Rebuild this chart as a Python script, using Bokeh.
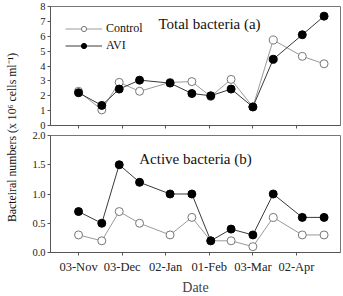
import math
import pandas as pd
from bokeh.plotting import figure
from bokeh.layouts import row, column
from bokeh.models import FixedTicker, DatetimeTickFormatter, Label, Range1d, NumeralTickFormatter, Legend, LegendItem
from bokeh.embed import file_html
from bokeh.resources import INLINE

dates = ["2000-11-03", "2000-11-19", "2000-12-01", "2000-12-15", "2001-01-05", "2001-01-20",
         "2001-02-02", "2001-02-16", "2001-03-03", "2001-03-17", "2001-04-06", "2001-04-21"]
total_control = [2.3, 1.05, 2.9, 2.3, 2.9, 2.95, 1.95, 3.1, 1.25, 5.75, 4.65, 4.15]
total_avi = [2.2, 1.35, 2.45, 3.05, 2.85, 2.15, 2.0, 2.45, 1.25, 4.45, 6.1, 7.35]
active_control = [0.3, 0.2, 0.7, 0.5, 0.3, 0.6, 0.2, 0.2, 0.1, 0.6, 0.3, 0.3]
active_avi = [0.7, 0.5, 1.5, 1.2, 1.0, 1.0, 0.2, 0.4, 0.3, 1.0, 0.6, 0.6]
tick_dates = ["2000-11-03", "2000-12-03", "2001-01-02", "2001-02-01", "2001-03-03", "2001-04-02"]
series_names = ["Control", "AVI"]
y_label = "Bacteiral numbers (x 10\u2076 cells ml\u207b\u00b9)"
titles = ["Total bacteria (a)", "Active bacteria (b)"]

x = pd.to_datetime(dates)
ticks_ms = [pd.Timestamp(d).value / 1e6 for d in tick_dates]
x0 = pd.Timestamp("2000-11-03") - pd.Timedelta(days=19.3)
x1 = pd.Timestamp("2000-11-03") + pd.Timedelta(days=180.3)
xr = Range1d(x0, x1)

FONT = "Liberation Serif"
AX = "#555555"
C_LINE = "#9a9a9a"
A_LINE = "#3a3a3a"


def style(p):
    p.grid.visible = False
    p.outline_line_color = "#777777"
    p.outline_line_width = 1
    p.background_fill_color = "white"
    p.border_fill_color = "white"
    for ax in (p.xaxis[0], p.yaxis[0]):
        ax.axis_line_color = AX
        ax.major_tick_line_color = AX
        ax.minor_tick_line_color = None
        ax.major_tick_in = 0
        ax.major_tick_out = 3
        ax.major_label_text_font = FONT
        ax.major_label_text_color = "#222222"
        ax.axis_label_text_font = FONT
        ax.axis_label_text_font_style = "normal"
    p.yaxis[0].major_label_text_font_size = "10.5px"
    p.yaxis[0].major_label_standoff = 2
    p.xaxis[0].ticker = FixedTicker(ticks=ticks_ms)
    p.xaxis[0].formatter = DatetimeTickFormatter(days="%d-%b", months="%d-%b", years="%d-%b")


# top panel
p1 = figure(x_axis_type="datetime", x_range=xr, y_range=Range1d(0, 8),
            frame_width=290, frame_height=119, output_backend="svg", toolbar_location=None,
            min_border_left=30, min_border_right=3, min_border_top=6, min_border_bottom=5)
style(p1)
p1.yaxis[0].ticker = FixedTicker(ticks=list(range(0, 9)))
p1.xaxis[0].major_label_overrides = {t: "" for t in ticks_ms}
p1.xaxis[0].major_label_standoff = 0
lc = p1.line(x, total_control, line_color=C_LINE, line_width=1)
la = p1.line(x, total_avi, line_color=A_LINE, line_width=1)
mc = p1.scatter(x, total_control, marker="circle", size=8, fill_color="white", line_color="#777777")
ma = p1.scatter(x, total_avi, marker="circle", size=8, fill_color="black", line_color="black")
leg = Legend(items=[LegendItem(label=series_names[0], renderers=[lc, mc]),
                    LegendItem(label=series_names[1], renderers=[la, ma])],
             location="top_left", margin=15, padding=0, spacing=2,
             glyph_height=13, label_height=13, glyph_width=37, label_standoff=4,
             border_line_color=None, background_fill_alpha=0,
             label_text_font=FONT, label_text_font_size="12px", label_text_color="#111111")
p1.add_layout(leg, "center")
p1.add_layout(Label(x=209 - 50, y=125 - 23, x_units="screen", y_units="screen", text=titles[0],
                    text_font=FONT, text_font_size="15px", text_align="center",
                    text_baseline="middle", text_color="#111111"))

# bottom panel
p2 = figure(x_axis_type="datetime", x_range=xr, y_range=Range1d(0, 2),
            frame_width=290, frame_height=117, output_backend="svg", toolbar_location=None,
            min_border_left=30, min_border_right=3, min_border_top=5, min_border_bottom=44)
style(p2)
p2.yaxis[0].ticker = FixedTicker(ticks=[0, 0.5, 1.0, 1.5, 2.0])
p2.yaxis[0].formatter = NumeralTickFormatter(format="0.0")
p2.xaxis[0].major_label_text_font_size = "12.5px"
p2.xaxis[0].major_label_standoff = 4
p2.xaxis[0].axis_label = "Date"
p2.xaxis[0].axis_label_text_font_size = "14px"
p2.xaxis[0].axis_label_standoff = 3
p2.line(x, active_control, line_color=C_LINE, line_width=1)
p2.line(x, active_avi, line_color=A_LINE, line_width=1)
p2.scatter(x, active_control, marker="circle", size=8, fill_color="white", line_color="#777777")
p2.scatter(x, active_avi, marker="circle", size=8, fill_color="black", line_color="black")
p2.add_layout(Label(x=195 - 50, y=252 - 158, x_units="screen", y_units="screen", text=titles[1],
                    text_font=FONT, text_font_size="15px", text_align="center",
                    text_baseline="middle", text_color="#111111"))

# y label strip
pl = figure(x_range=Range1d(0, 20), y_range=Range1d(0, 296), frame_width=20, frame_height=296,
            min_border=0, output_backend="svg", toolbar_location=None,
            x_axis_type=None, y_axis_type=None)
pl.grid.visible = False
pl.outline_line_color = None
pl.add_layout(Label(x=11, y=296 - 137, text=y_label, angle=math.pi / 2,
                    text_font=FONT, text_font_size="11.8px", text_align="center",
                    text_baseline="middle", text_color="#111111"))

layout = row(pl, column(p1, p2, spacing=0), spacing=0)
open("out.html", "w").write(file_html(layout, INLINE))
